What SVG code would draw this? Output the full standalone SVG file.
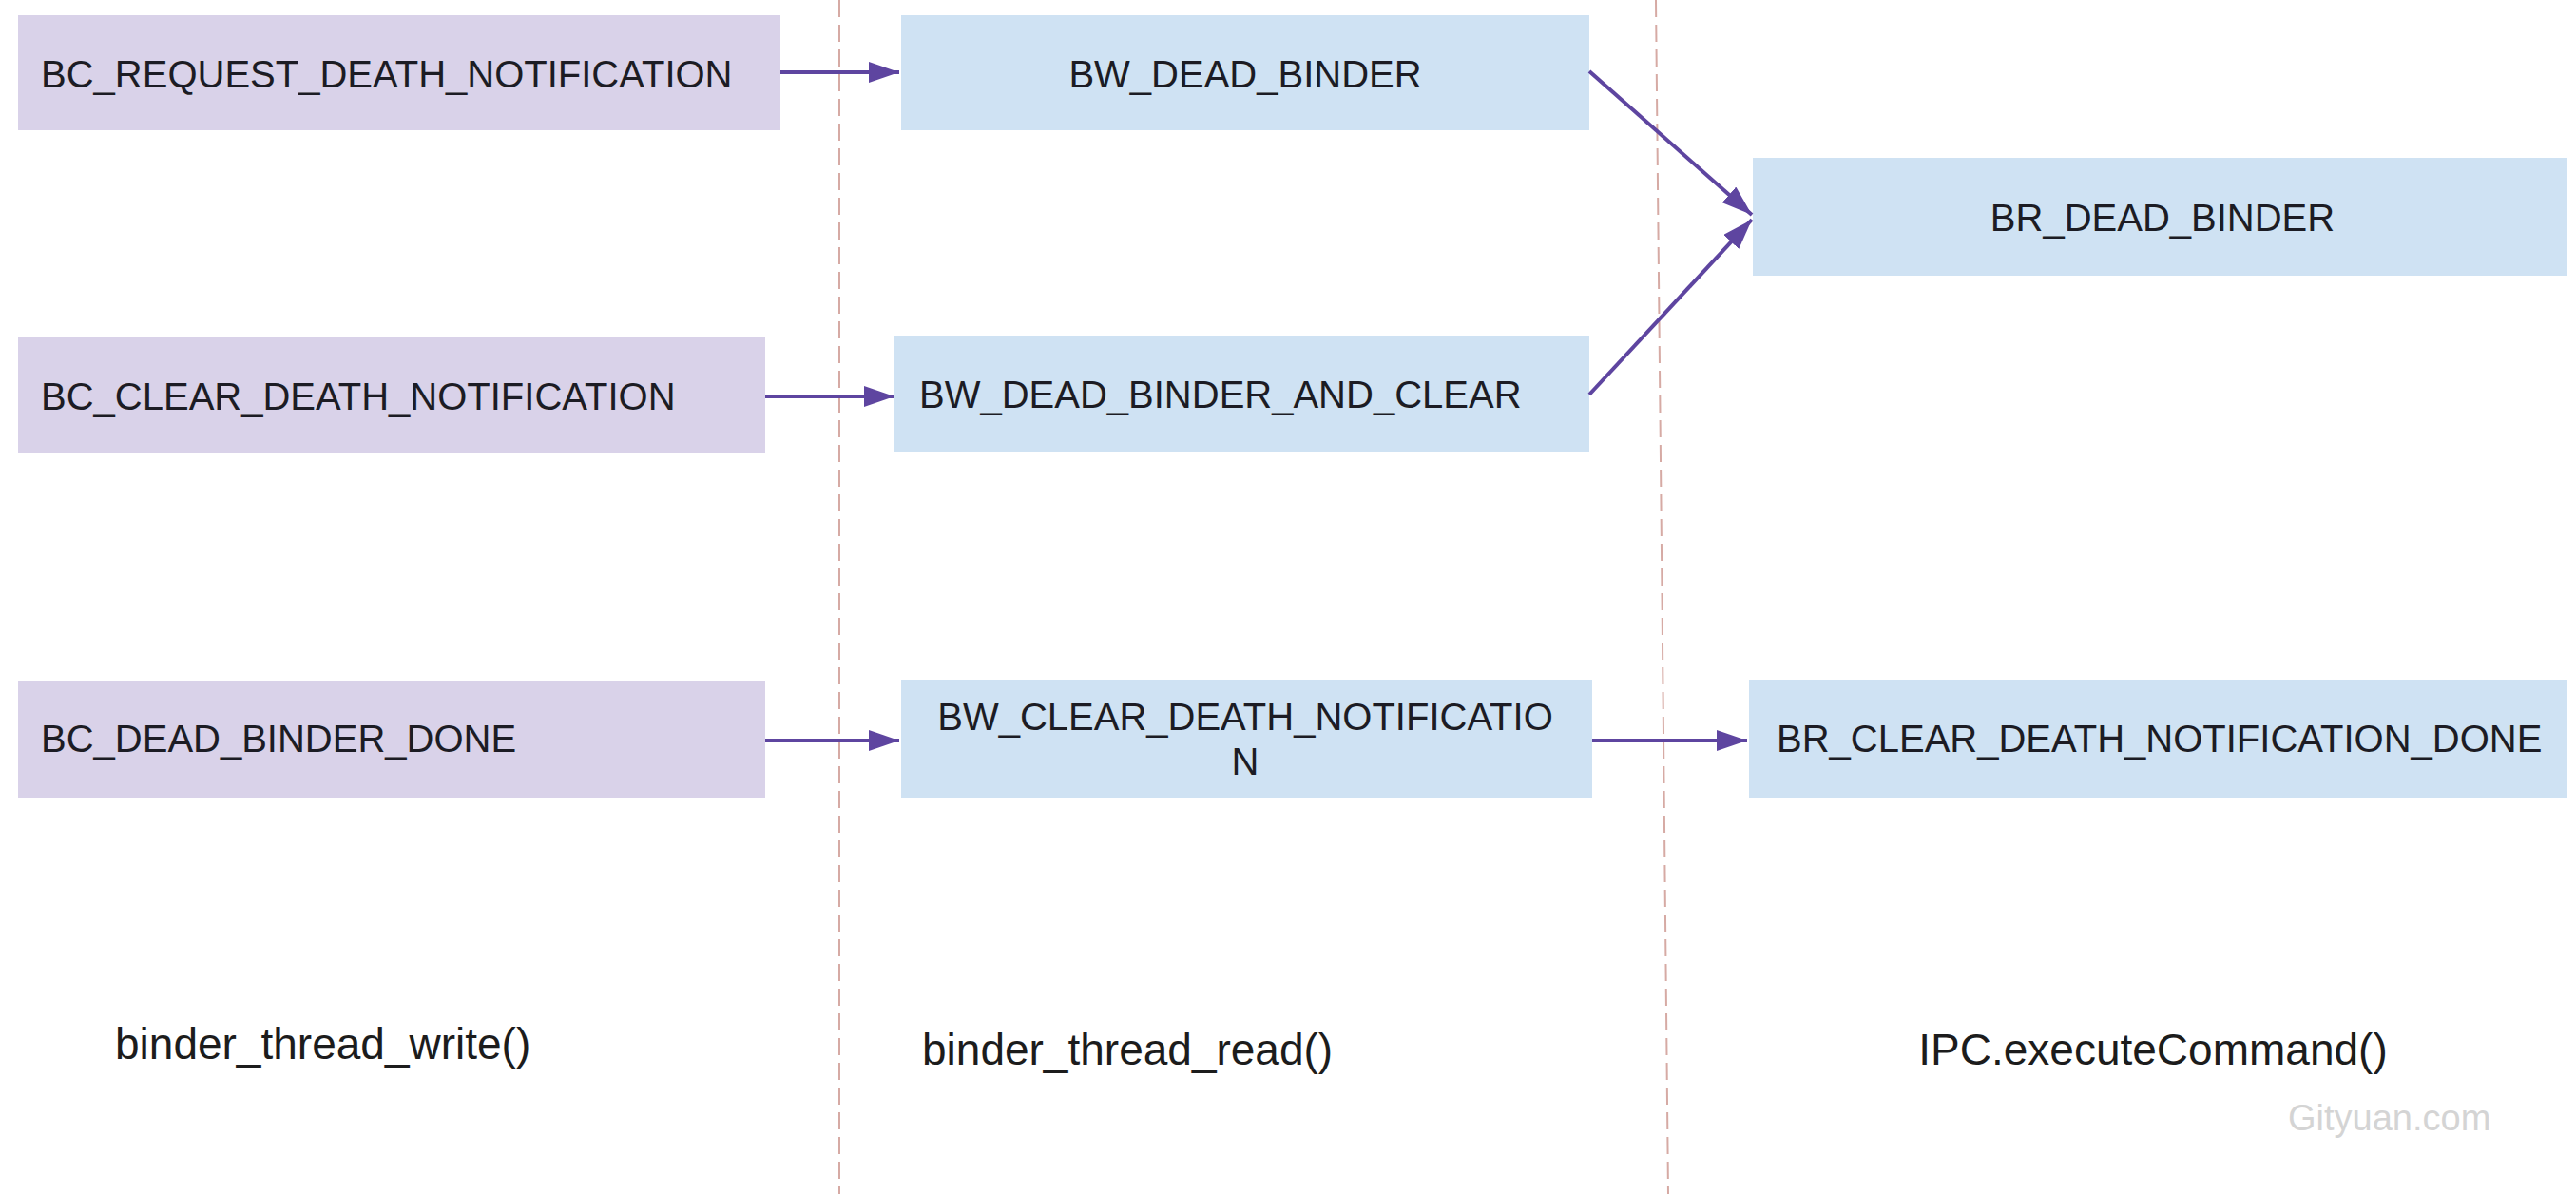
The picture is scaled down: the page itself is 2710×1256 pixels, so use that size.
<svg xmlns="http://www.w3.org/2000/svg" width="2710" height="1256" viewBox="0 0 2710 1256">
<defs>
<style>
.bc{fill:#d9d2e9}
.bw{fill:#cfe2f3}
.t{font-family:"Liberation Sans",Arial,sans-serif;font-size:40px;fill:#1c1c24}
.lbl{font-family:"Liberation Sans",Arial,sans-serif;font-size:46px;fill:#1c1c1c}
.mid{text-anchor:middle}
.conn{stroke:#5e45a0;stroke-width:4;fill:none;marker-end:url(#ah)}
.sep{stroke:#d6aaa4;stroke-width:2;stroke-dasharray:18 8;fill:none}
</style>
<marker id="ah" markerUnits="userSpaceOnUse" markerWidth="32" markerHeight="22" refX="32" refY="11" orient="auto">
<path d="M0,0 L32,11 L0,22 z" fill="#5e45a0"/>
</marker>
</defs>
<rect width="2710" height="1256" fill="#ffffff"/>
<g id="separators">
<line class="sep" x1="883" y1="0" x2="883" y2="1256"/>
<line class="sep" x1="1742" y1="0" x2="1755" y2="1256"/>
</g>
<g id="n-bc-request">
<rect class="bc" x="19" y="16" width="802" height="121"/>
<text class="t" x="43" y="92">BC_REQUEST_DEATH_NOTIFICATION</text>
</g>
<g id="n-bc-clear">
<rect class="bc" x="19" y="355" width="786" height="122"/>
<text class="t" x="43" y="431">BC_CLEAR_DEATH_NOTIFICATION</text>
</g>
<g id="n-bc-done">
<rect class="bc" x="19" y="716" width="786" height="123"/>
<text class="t" x="43" y="791">BC_DEAD_BINDER_DONE</text>
</g>
<g id="n-bw-dead">
<rect class="bw" x="948" y="16" width="724" height="121"/>
<text class="t mid" x="1310" y="92">BW_DEAD_BINDER</text>
</g>
<g id="n-bw-dead-clear">
<rect class="bw" x="941" y="353" width="731" height="122"/>
<text class="t" x="967" y="429">BW_DEAD_BINDER_AND_CLEAR</text>
</g>
<g id="n-bw-clear">
<rect class="bw" x="948" y="715" width="727" height="124"/>
<text class="t mid" x="1310" y="768">BW_CLEAR_DEATH_NOTIFICATIO</text>
<text class="t mid" x="1310" y="815">N</text>
</g>
<g id="n-br-dead">
<rect class="bw" x="1844" y="166" width="857" height="124"/>
<text class="t mid" x="2275" y="243">BR_DEAD_BINDER</text>
</g>
<g id="n-br-clear">
<rect class="bw" x="1840" y="715" width="861" height="124"/>
<text class="t" x="1869" y="791">BR_CLEAR_DEATH_NOTIFICATION_DONE</text>
</g>
<g id="connectors">
<line class="conn" x1="821" y1="76" x2="946" y2="76"/>
<line class="conn" x1="805" y1="417" x2="941" y2="417"/>
<line class="conn" x1="805" y1="779" x2="946" y2="779"/>
<line class="conn" x1="1672" y1="75" x2="1843" y2="226"/>
<line class="conn" x1="1672" y1="415" x2="1843" y2="231"/>
<line class="conn" x1="1675" y1="779" x2="1838" y2="779"/>
</g>
<g id="labels">
<text class="lbl" x="121" y="1114">binder_thread_write()</text>
<text class="lbl" x="970" y="1120">binder_thread_read()</text>
<text class="lbl mid" x="2265" y="1120">IPC.executeCommand()</text>
<text x="2407" y="1189" font-family="Liberation Sans, Arial, sans-serif" font-size="38" fill="#d4d4d4">Gityuan.com</text>
</g>
</svg>
